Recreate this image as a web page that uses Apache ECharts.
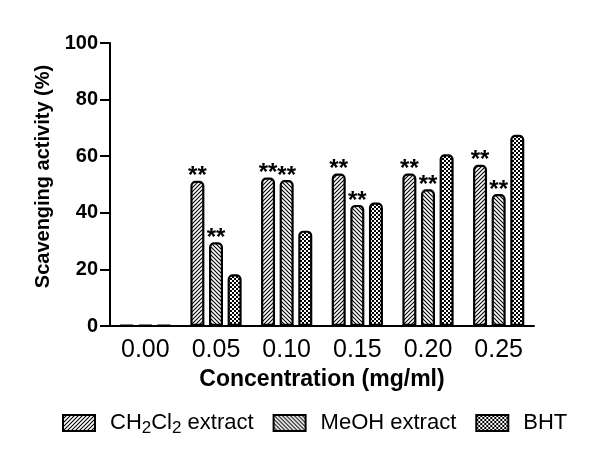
<!DOCTYPE html>
<html>
<head>
<meta charset="utf-8">
<script src="https://cdn.jsdelivr.net/npm/echarts@6/dist/echarts.min.js"></script>
<style>
  html, body { margin: 0; padding: 0; background: #fff; }
  #chart { width: 600px; height: 455px; }
</style>
</head>
<body>
<div id="chart"></div>
<script>
const categories = ['0.00', '0.05', '0.10', '0.15', '0.20', '0.25']
const ch2cl2 = [0.3, 51.3, 52.5, 53.9, 53.9, 57.0]
const meoh = [0.3, 29.6, 51.6, 42.8, 48.3, 46.6]
const bht = [0.3, 18.3, 33.7, 43.6, 60.7, 67.6]
// significance marks above bars
const ch2cl2Sig = ['', '**', '**', '**', '**', '**']
const meohSig = ['', '**', '**', '**', '**', '**']
const yTicks = [0, 20, 40, 60, 80, 100]

const FONT = 'Liberation Sans, Arial, sans-serif'

// hatch fills drawn on small canvases
function hatch(dir) {
  const c = document.createElement('canvas')
  c.width = 4
  c.height = 4
  const g = c.getContext('2d')
  g.fillStyle = '#fff'
  g.fillRect(0, 0, 4, 4)
  g.strokeStyle = '#000'
  g.lineWidth = 1.1
  g.beginPath()
  if (dir === '/') {
    g.moveTo(-1, 5); g.lineTo(5, -1)
    g.moveTo(-1, 1); g.lineTo(1, -1)
    g.moveTo(3, 5); g.lineTo(5, 3)
  } else {
    g.moveTo(-1, -1); g.lineTo(5, 5)
    g.moveTo(3, -1); g.lineTo(5, 1)
    g.moveTo(-1, 3); g.lineTo(1, 5)
  }
  g.stroke()
  return { image: c, repeat: 'repeat' }
}

function checker() {
  const c = document.createElement('canvas')
  c.width = 4
  c.height = 4
  const g = c.getContext('2d')
  g.fillStyle = '#fff'
  g.fillRect(0, 0, 4, 4)
  g.fillStyle = '#000'
  g.fillRect(0, 0, 2, 2)
  g.fillRect(2, 2, 2, 2)
  return { image: c, repeat: 'repeat' }
}

function barSeries(name, data, fill, sig) {
  return {
    name: name,
    type: 'bar',
    data: data,
    barWidth: 14,
    barGap: '33%',
    itemStyle: {
      color: fill,
      borderColor: '#000',
      borderWidth: 2.2,
      borderRadius: [4, 4, 0, 0]
    },
    label: {
      show: !!sig,
      position: 'top',
      distance: 0,
      offset: [0, 8],
      color: '#000',
      fontFamily: FONT,
      fontSize: 24,
      fontWeight: 'bold',
      formatter: p => (sig ? sig[p.dataIndex] : '')
    }
  }
}

const chart = echarts.init(document.getElementById('chart'))
chart.setOption({
  animation: false,
  textStyle: { fontFamily: FONT, color: '#000' },
  grid: { left: 110, right: 66, top: 43, bottom: 129 },
  legend: {
    left: 57,
    top: 407,
    icon: 'rect',
    itemWidth: 32,
    itemHeight: 16,
    itemGap: 19,
    textStyle: {
      fontFamily: FONT,
      fontSize: 22,
      color: '#000',
      padding: [0, 0, 0, 10],
      rich: {
        sub: { fontSize: 17, verticalAlign: 'bottom', padding: [10, 0, 0, 0], fontFamily: FONT, color: '#000' },
        n: { fontSize: 22, fontFamily: FONT, color: '#000' }
      }
    },
    formatter: function (name) {
      if (name === 'CH2Cl2 extract') return '{n|CH}{sub|2}{n|Cl}{sub|2}{n| extract}'
      return name
    },
    data: ['CH2Cl2 extract', 'MeOH extract', 'BHT']
  },
  xAxis: {
    type: 'category',
    data: categories,
    name: 'Concentration (mg/ml)',
    nameLocation: 'middle',
    nameGap: 36,
    nameTextStyle: { fontFamily: FONT, fontSize: 23, fontWeight: 'bold', color: '#000' },
    axisLine: { lineStyle: { color: '#000', width: 2 } },
    axisTick: { alignWithLabel: true, length: 9, lineStyle: { color: '#000', width: 2 } },
    axisLabel: { fontFamily: FONT, fontSize: 25, color: '#000', margin: 12 }
  },
  yAxis: {
    type: 'value',
    min: yTicks[0],
    max: yTicks[yTicks.length - 1],
    interval: yTicks[1] - yTicks[0],
    name: 'Scavenging activity (%)',
    nameLocation: 'middle',
    nameGap: 54,
    nameTextStyle: { fontFamily: FONT, fontSize: 20, fontWeight: 'bold', color: '#000', padding: [0, 0, 0, 16] },
    splitLine: { show: false },
    axisLine: { show: true, lineStyle: { color: '#000', width: 2 } },
    axisTick: { show: true, length: 10, lineStyle: { color: '#000', width: 2 } },
    axisLabel: { fontFamily: FONT, fontSize: 20, fontWeight: 'bold', color: '#000', margin: 12 }
  },
  series: [
    barSeries('CH2Cl2 extract', ch2cl2, hatch('/'), ch2cl2Sig),
    barSeries('MeOH extract', meoh, hatch('\\'), meohSig),
    barSeries('BHT', bht, checker(), null)
  ]
})
</script>
</body>
</html>
